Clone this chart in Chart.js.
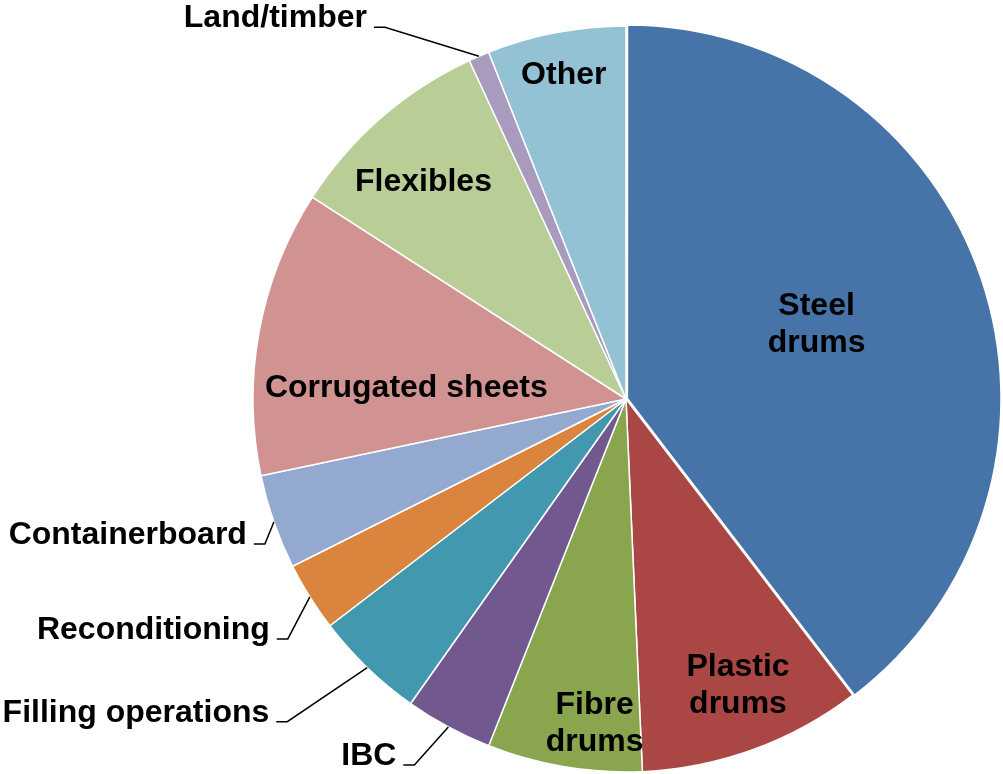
<!DOCTYPE html>
<html>
<head>
<meta charset="utf-8">
<script src="https://cdn.jsdelivr.net/npm/chart.js@4.4.1/dist/chart.umd.min.js"></script>
<style>
  html, body { margin: 0; padding: 0; background: #fff; }
  #wrap { width: 1003px; height: 774px; }
</style>
</head>
<body>
<div id="wrap"><canvas id="pie"></canvas></div>
<script>
// shares of the market, clockwise from 12 o'clock
const categories = ["Steel drums", "Plastic drums", "Fibre drums", "IBC", "Filling operations",
  "Reconditioning", "Containerboard", "Corrugated sheets", "Flexibles", "Land/timber", "Other"];
const shares = [39.6, 9.7, 6.7, 3.8, 4.8, 3.0, 4.1, 12.4, 9.0, 0.9, 6.0];
const sliceColours = ["#4673a8", "#aa4643", "#89a54e", "#71588f", "#4198af",
  "#db843d", "#93a9cf", "#d19392", "#b9cd96", "#a99bbd", "#93c2d4"];

// where each label goes: inside ones by fraction of radius (+ small turn in degrees),
// outside ones by the elbow of the leader line relative to the slice edge
const labelSpots = {
  "Steel drums": { inside: true, lines: ["Steel", "drums"], r: 0.55, turn: -3 },
  "Plastic drums": { inside: true, lines: ["Plastic", "drums"], r: 0.82, turn: -1.5 },
  "Fibre drums": { inside: true, lines: ["Fibre", "drums"], r: 0.87, turn: -4 },
  "IBC": { inside: false, dx: -34, dy: 38 },
  "Filling operations": { inside: false, dx: -80, dy: 54 },
  "Reconditioning": { inside: false, dx: -22, dy: 42 },
  "Containerboard": { inside: false, dx: -9, dy: 22 },
  "Corrugated sheets": { inside: true, lines: ["Corrugated sheets"], r: 0.59, turn: -7 },
  "Flexibles": { inside: true, lines: ["Flexibles"], r: 0.80, turn: -1.7 },
  "Land/timber": { inside: false, dx: -94, dy: -29 },
  "Other": { inside: true, lines: ["Other"], r: 0.89, turn: 0 }
};

const FONT = "bold 32px 'Liberation Sans', Arial, sans-serif";

const pieLabels = {
  id: "pieLabels",
  afterDatasetsDraw(chart) {
    const ctx = chart.ctx;
    const arcs = chart.getDatasetMeta(0).data;
    ctx.save();
    ctx.font = FONT;
    ctx.fillStyle = "#000";
    ctx.strokeStyle = "#000";
    ctx.lineWidth = 1.5;
    arcs.forEach((arc, i) => {
      const spot = labelSpots[categories[i]];
      const { x, y, startAngle, endAngle, outerRadius } =
        arc.getProps(["x", "y", "startAngle", "endAngle", "outerRadius"], true);
      const mid = (startAngle + endAngle) / 2;
      if (spot.inside) {
        const a = mid + spot.turn * Math.PI / 180;
        const cx = x + Math.cos(a) * outerRadius * spot.r;
        const cy = y + Math.sin(a) * outerRadius * spot.r + 2;
        ctx.textAlign = "center";
        ctx.textBaseline = "middle";
        const lh = 37;
        const top = cy - (spot.lines.length - 1) * lh / 2;
        spot.lines.forEach((t, k) => ctx.fillText(t, cx, top + k * lh));
      } else {
        const px = x + Math.cos(mid) * outerRadius;
        const py = y + Math.sin(mid) * outerRadius;
        const ex = px + spot.dx, ey = py + spot.dy;
        ctx.beginPath();
        ctx.moveTo(px, py);
        ctx.lineTo(ex, ey);
        ctx.lineTo(ex - 11, ey);
        ctx.stroke();
        ctx.textAlign = "right";
        ctx.textBaseline = "alphabetic";
        ctx.fillText(categories[i], ex - 18, ey);
      }
    });
    ctx.restore();
  }
};

new Chart(document.getElementById("pie"), {
  type: "pie",
  data: {
    labels: categories,
    datasets: [{
      data: shares,
      backgroundColor: sliceColours,
      borderColor: "#ffffff",
      borderWidth: 1.5,
      offset: categories.map((c, i) => i === 0 ? 6 : 0)
    }]
  },
  options: {
    responsive: true,
    maintainAspectRatio: false,
    animation: false,
    radius: 373,
    layout: { padding: { left: 249, top: 24, right: 0, bottom: 0 } },
    plugins: {
      legend: { display: false },
      tooltip: { enabled: false }
    }
  },
  plugins: [pieLabels]
});
</script>
</body>
</html>
